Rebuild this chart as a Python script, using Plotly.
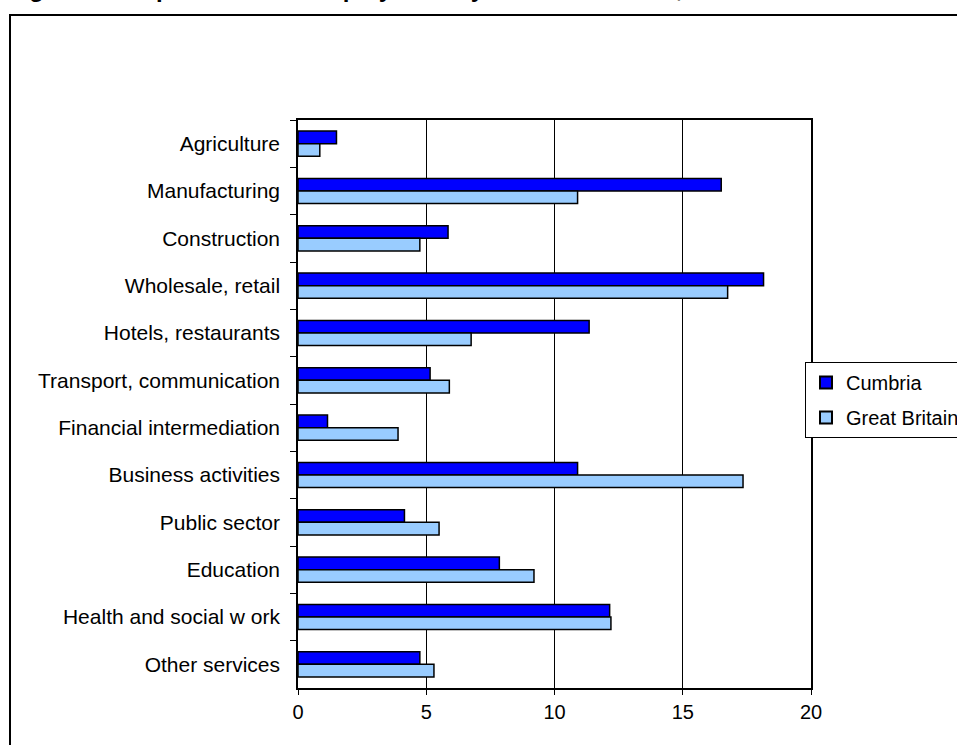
import plotly.graph_objects as go

categories = [
    "Agriculture", "Manufacturing", "Construction", "Wholesale, retail",
    "Hotels, restaurants", "Transport, communication", "Financial intermediation",
    "Business activities", "Public sector", "Education",
    "Health and social w ork", "Other services",
]
cumbria = [1.5, 16.5, 5.85, 18.15, 11.35, 5.15, 1.15, 10.9, 4.15, 7.85, 12.15, 4.75]
great_britain = [0.85, 10.9, 4.75, 16.75, 6.75, 5.9, 3.9, 17.35, 5.5, 9.2, 12.2, 5.3]
x_ticks = [0, 5, 10, 15, 20]
title_text = "Figure 1: Proportion of all employment by industrial sector, 2003"

FONT = "Arial, 'Liberation Sans', sans-serif"

fig = go.Figure()
fig.add_trace(go.Bar(
    y=categories, x=cumbria, name="Cumbria", orientation="h", legendgroup="c",
    marker=dict(color="#0000FF", line=dict(color="black", width=1.5)),
))
fig.add_trace(go.Bar(
    y=categories, x=great_britain, name="Great Britain", orientation="h", legendgroup="g",
    marker=dict(color="#99CCFF", line=dict(color="black", width=1.5)),
))

L, R, T, B = 298, 146, 120, 57
W, H = 957, 745
pw, ph = W - L - R, H - T - B

def px_x(p):
    return (p - L) / pw

def px_y(p):
    return (H - B - p) / ph

fig.update_layout(
    width=W, height=H,
    margin=dict(l=L, r=R, t=T, b=B, pad=0, autoexpand=False),
    paper_bgcolor="white", plot_bgcolor="white",
    font=dict(family=FONT, size=20, color="black"),
    barmode="group", bargap=0.47, bargroupgap=0.0,
    showlegend=True,
    legend=dict(
        x=px_x(805), y=px_y(362), xanchor="left", yanchor="top",
        bgcolor="white", bordercolor="black", borderwidth=1,
        font=dict(family=FONT, size=20, color="black"),
        tracegroupgap=6, itemsizing="constant",
    ),
    xaxis=dict(
        range=[0, 20], tickvals=x_ticks, ticktext=[str(v) for v in x_ticks],
        showgrid=True, gridcolor="black", gridwidth=1,
        showline=True, linecolor="black", linewidth=1.5, mirror=True,
        ticks="outside", ticklen=5, tickcolor="black", tickwidth=1,
        zeroline=False, fixedrange=True,
        tickfont=dict(family=FONT, size=20, color="black"),
    ),
    yaxis=dict(
        type="category", autorange="reversed",
        showline=True, linecolor="black", linewidth=1.5, mirror=True,
        ticks="outside", ticklen=6, tickcolor="black", tickwidth=1,
        tickson="boundaries", showgrid=False, ticklabelstandoff=12,
        tickfont=dict(family=FONT, size=21, color="black"),
    ),
    shapes=[dict(
        type="rect", xref="paper", yref="paper",
        x0=px_x(10), x1=px_x(1000), y0=px_y(800), y1=px_y(15),
        line=dict(color="black", width=2), fillcolor="rgba(0,0,0,0)",
        layer="above",
    )],
    annotations=[dict(
        text="<b>" + title_text + "</b>", xref="paper", yref="paper",
        x=px_x(6), y=1, xanchor="left", yanchor="bottom", yshift=T - 4,
        showarrow=False, font=dict(family=FONT, size=24, color="black"),
    )],
)

fig.write_html(
    "out.html",
    config={"displayModeBar": False},
    post_script="document.body.style.margin='0';document.body.style.overflow='hidden';",
)
